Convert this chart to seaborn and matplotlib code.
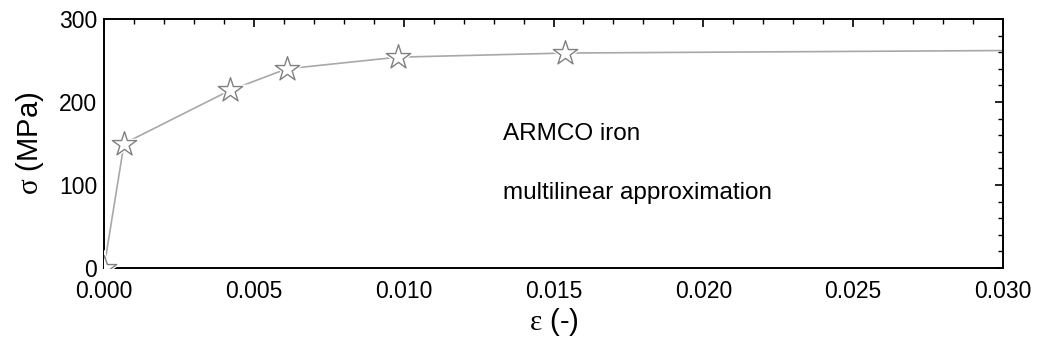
import matplotlib
matplotlib.use("Agg")
import matplotlib.pyplot as plt
import seaborn as sns
import pandas as pd
from matplotlib.ticker import MultipleLocator

strain = [0.0, 0.00067, 0.0042, 0.0061, 0.0098, 0.0154, 0.030]
stress = [0.0, 150.0, 214.0, 240.0, 254.0, 259.0, 262.0]
marked = [True, True, True, True, True, True, False]
x_ticks = [0.000, 0.005, 0.010, 0.015, 0.020, 0.025, 0.030]
y_ticks = [0, 100, 200, 300]
annotations = ["ARMCO iron", "multilinear approximation"]

sns.set_theme(style="white")
plt.rcParams['font.family'] = ['Liberation Sans', 'DejaVu Sans']
plt.rcParams['text.color'] = 'black'
plt.rcParams['axes.labelcolor'] = 'black'
plt.rcParams['mathtext.fontset'] = 'custom'
plt.rcParams['mathtext.rm'] = 'Liberation Serif'

df = pd.DataFrame({"strain": strain, "stress": stress, "marked": marked})
dm = df[df["marked"]]

fig = plt.figure(figsize=(10.42, 3.52), dpi=100)
ax = fig.add_axes([104/1042, 1 - 268/352, (1003-104)/1042, (268-19)/352])

gray = "#a8a8a8"
sns.lineplot(data=df, x="strain", y="stress", ax=ax, color=gray, lw=1.2,
             sort=False, estimator=None, zorder=2)
# white halo to create gaps around markers
sns.scatterplot(data=dm, x="strain", y="stress", ax=ax, marker="*", s=750,
                color="white", edgecolor="white", linewidth=0, zorder=3)
sns.scatterplot(data=dm, x="strain", y="stress", ax=ax, marker="*", s=340,
                facecolor="white", edgecolor="#808080", linewidth=1.0, zorder=4)

ax.set_xlim(0, 0.030)
ax.set_ylim(0, 300)
ax.set_xticks(x_ticks)
ax.set_xticklabels([f"{v:.3f}" for v in x_ticks])
ax.set_yticks(y_ticks)
ax.xaxis.set_minor_locator(MultipleLocator(0.001))
ax.yaxis.set_minor_locator(MultipleLocator(20))
ax.tick_params(which="both", direction="in", top=True, right=True,
               labelsize=16.5, colors="black")
ax.tick_params(which="major", length=6, width=1.2)
ax.tick_params(axis="x", which="major", pad=9)
ax.tick_params(axis="y", which="major", pad=5)
ax.tick_params(which="minor", length=3.5, width=1.0)
for sp in ax.spines.values():
    sp.set_color("black")
    sp.set_linewidth(1.4)

ax.set_xlabel(r"$\mathrm{ε}$ (-)", fontsize=21, labelpad=2)
ax.set_ylabel(r"$\mathrm{σ}$ (MPa)", fontsize=21, labelpad=9)

ax.text(0.01332, 161, annotations[0], fontsize=17.5, va="center", ha="left")
ax.text(0.01332, 90, annotations[1], fontsize=17.5, va="center", ha="left")

fig.savefig("out.png", dpi=100)
